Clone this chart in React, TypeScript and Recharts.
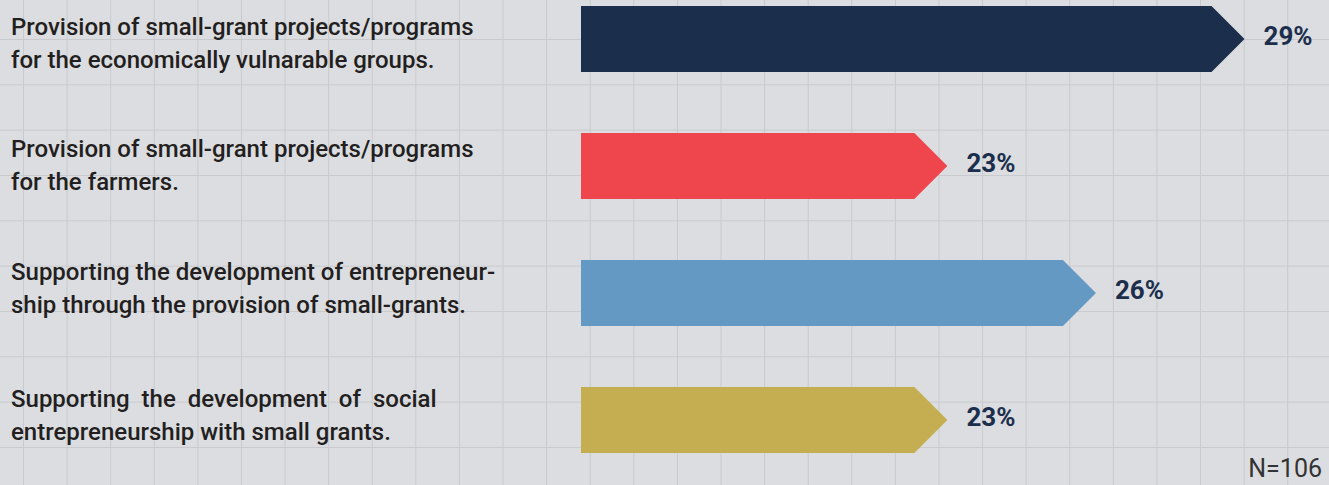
import React from 'react'
import { BarChart, Bar, XAxis, YAxis, Cell, LabelList } from 'recharts'

const categories = [
  'Provision of small-grant projects/programs\nfor the economically vulnarable groups.',
  'Provision of small-grant projects/programs\nfor the farmers.',
  'Supporting the development of entrepreneur-\nship through the provision of small-grants.',
  'Supporting the development of social\nentrepreneurship with small grants.',
]
const shares = [29, 23, 26, 23]
const sampleNote = 'N=106'

const COLORS = ['#1b2f4d', '#ef464e', '#6399c2', '#c5ad51']
const FONT = 'Roboto, "Noto Sans", sans-serif'
// first-line baseline offset from the bar centre, per label
const LABEL_SHIFT = [-4, -9, -13, -13]

const data = categories.map((name, i) => ({ name, value: shares[i] }))

// bar with a pointed right end
function ArrowBar(props: any) {
  const { x, y, width, height, fill } = props
  const tip = height / 2
  const d = `M${x},${y} L${x + width - tip},${y} L${x + width},${y + height / 2} L${x + width - tip},${y + height} L${x},${y + height} Z`
  return <path d={d} fill={fill} />
}

function CategoryTick(props: any) {
  const { y, payload, index } = props
  const lines = String(payload.value).split('\n')
  const justify = index === 3
  const base = y + LABEL_SHIFT[index]
  return (
    <text x={11} y={base} fill="#231f20" fontFamily={FONT} fontSize={24} fontWeight={500}>
      {lines.map((l, i) => (
        <tspan key={i} x={11} y={base + i * 33} style={justify && i === 0 ? { wordSpacing: 6 } : undefined}>
          {l}
        </tspan>
      ))}
    </text>
  )
}

function ValueLabel(props: any) {
  const { x, y, width, height, value } = props
  return (
    <text x={x + width + 19} y={y + height / 2 - 3} dominantBaseline="central" fill="#1b2f4d" fontFamily={FONT} fontSize={26} fontWeight={700}>
      {value}%
    </text>
  )
}

export default function App() {
  return (
    <div
      style={{
        position: 'relative',
        width: 1329,
        height: 485,
        overflow: 'hidden',
        backgroundColor: '#dcdde0',
        backgroundImage:
          'linear-gradient(to right, #c9cacd 1px, transparent 1px), linear-gradient(to bottom, #c9cacd 1px, transparent 1px)',
        backgroundSize: '43.6px 45.33px',
        backgroundPosition: '23px 39px',
      }}
    >
      <style>{'body{margin:0}'}</style>
      <div style={{ position: 'absolute', left: 0, top: -25 }}>
        <BarChart width={1329} height={533} data={data} layout="vertical" margin={{ top: 0, right: 35, bottom: 25, left: 0 }}>
          <XAxis type="number" domain={[15.6, 30]} allowDataOverflow hide />
          <YAxis type="category" dataKey="name" width={581} tickLine={false} axisLine={false} tick={<CategoryTick />} interval={0} />
          <Bar dataKey="value" barSize={66} shape={<ArrowBar />} isAnimationActive={false}>
            {data.map((_, i) => (
              <Cell key={i} fill={COLORS[i]} />
            ))}
            <LabelList dataKey="value" content={<ValueLabel />} />
          </Bar>
        </BarChart>
      </div>
      <div style={{ position: 'absolute', right: 7, bottom: 4, fontFamily: FONT, fontSize: 25, color: '#333', lineHeight: 1 }}>{sampleNote}</div>
    </div>
  )
}
